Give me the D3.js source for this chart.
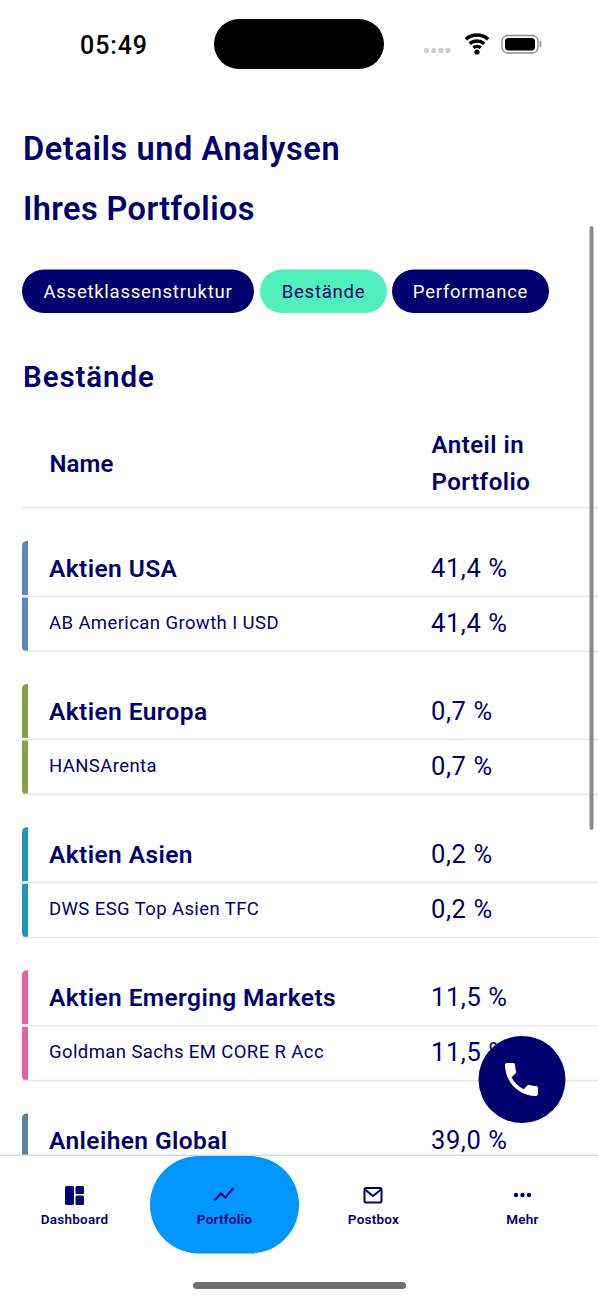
<!DOCTYPE html>
<html><head><meta charset="utf-8">
<script src="https://cdn.jsdelivr.net/npm/d3@7/dist/d3.min.js"></script>
<style>html,body{margin:0;padding:0;background:#fff}svg{display:block}text{font-family:Roboto,sans-serif}</style>
</head><body><div id="c"></div>
<script>
const groups=["Aktien USA","Aktien Europa","Aktien Asien","Aktien Emerging Markets","Anleihen Global"];
const groupValues=[41.4,0.7,0.2,11.5,39.0];
const funds=["AB American Growth I USD","HANSArenta","DWS ESG Top Asien TFC","Goldman Sachs EM CORE R Acc",""];
const fundValues=[41.4,0.7,0.2,11.5,null];
const groupColors=["#5c86bd","#8c9f4a","#2493b8","#e2639f","#5f7f99"];
const tabs=["Assetklassenstruktur","Bestände","Performance"];
const navItems=["Dashboard","Portfolio","Postbox","Mehr"];
const navy="#00006e";
const fmt=v=>d3.format(".1f")(v).replace(".",",")+" %";
const svg=d3.select("#c").append("svg").attr("width",598).attr("height",1300);
const T=(x,y,s,size,w,fill,ls,anchor)=>svg.append("text").attr("x",x).attr("y",y).text(s)
  .attr("font-size",size).attr("font-weight",w).attr("fill",fill||navy)
  .attr("letter-spacing",ls||0).attr("text-anchor",anchor||"start");

// status bar
T(114,53.5,"05:49",25,500,"#000",0.9,"middle");
svg.append("rect").attr("x",214).attr("y",19).attr("width",170).attr("height",50).attr("rx",25).attr("fill","#000");
svg.selectAll(".sig").data([0,1,2,3]).join("rect").attr("x",d=>424+d*7.2).attr("y",48).attr("width",5).attr("height",5).attr("rx",1.5).attr("fill","#d0d0d0");
const wifi=svg.append("g").attr("transform","translate(477,52)").attr("fill","none").attr("stroke","#000").attr("stroke-width",3.4);
[5.5,11,17].forEach((r,i)=>wifi.append("path").attr("d",d3.arc().innerRadius(r).outerRadius(r).startAngle(-0.72).endAngle(0.72)()));
wifi.append("circle").attr("r",2.6).attr("fill","#000").attr("stroke","none");
svg.append("rect").attr("x",502).attr("y",35.5).attr("width",36).attr("height",17.5).attr("rx",5.5).attr("fill","none").attr("stroke","#8a8a8a").attr("stroke-width",1.3);
svg.append("rect").attr("x",505).attr("y",38).attr("width",30).attr("height",12.5).attr("rx",3.5).attr("fill","#000");
svg.append("rect").attr("x",539.5).attr("y",41).attr("width",2).attr("height",6).attr("rx",1).attr("fill","#a0a0a0");

// title
T(23,159.5,"Details und Analysen",32.5,600,navy,0.6);
T(23,219.5,"Ihres Portfolios",32.5,600,navy,0.4);

// tabs
const tabBox=[[22,232],[260,127],[392,157]];
tabs.forEach((t,i)=>{
  const [x,w]=tabBox[i];
  svg.append("rect").attr("x",x).attr("y",269.5).attr("width",w).attr("height",43.5).attr("rx",21.7).attr("fill",i==1?"#4ff0bc":navy);
  T(x+w/2,297.5,t,18.5,400,i==1?navy:"#fff",0.75,"middle");
});

// section heading + table head
T(23,386.5,"Bestände",29.5,600,navy,0.9);
T(49.5,472,"Name",24,600,navy,0.1);
T(431.5,453,"Anteil in",24,600,navy,0.5);
T(431.5,490,"Portfolio",24,600,navy,0.5);
svg.append("rect").attr("x",23).attr("y",507).attr("width",575).attr("height",1.5).attr("fill","#e8e8ec");

// rows
const y=d3.scaleBand().domain(groups).range([541,541+143.1*groups.length]).paddingInner(0);
const clip=svg.append("defs").append("clipPath").attr("id","cl").append("rect").attr("width",598).attr("height",1155);
const rows=svg.append("g").attr("clip-path","url(#cl)");
groups.forEach((g,i)=>{
  const t=y(g), G=rows.append("g");
  G.append("path").attr("fill",groupColors[i]).attr("d",`M28 ${t}h-1.5a5 5 0 0 0 -4.5 5v49h6z`);
  G.append("text").attr("x",49).attr("y",t+36).text(g).attr("font-size",24.5).attr("font-weight",600).attr("letter-spacing",0.4).attr("fill",navy);
  G.append("text").attr("x",431).attr("y",t+36).text(fmt(groupValues[i])).attr("font-size",25.5).attr("font-weight",400).attr("letter-spacing",0.6).attr("fill",navy);
  if(!funds[i])return;
  G.append("rect").attr("x",23).attr("y",t+54.5).attr("width",575).attr("height",1.5).attr("fill","#e8e8ec");
  G.append("path").attr("fill",groupColors[i]).attr("d",`M22 ${t+56.5}h6v54h-1.5a5 5 0 0 1 -4.5 -5z`);
  G.append("text").attr("x",49).attr("y",t+88).text(funds[i]).attr("font-size",18.5).attr("font-weight",400).attr("letter-spacing",0.4).attr("fill",navy);
  G.append("text").attr("x",431).attr("y",t+91).text(fmt(fundValues[i])).attr("font-size",25.5).attr("font-weight",400).attr("letter-spacing",0.6).attr("fill",navy);
  G.append("rect").attr("x",23).attr("y",t+109.5).attr("width",575).attr("height",1.5).attr("fill","#e8e8ec");
});

// scrollbar
svg.append("rect").attr("x",589.5).attr("y",226).attr("width",4).attr("height",604).attr("rx",2).attr("fill","#8a8a8a");

// call button
svg.append("circle").attr("cx",522).attr("cy",1079.5).attr("r",43.5).attr("fill",navy);
svg.append("path").attr("fill","#fff").attr("transform","translate(499.5,1057.5) scale(1.83)")
  .attr("d","M6.6 10.8c1.4 2.8 3.8 5.1 6.6 6.6l2.2-2.2c.3-.3.7-.4 1-.2 1.1.4 2.3.6 3.6.6.6 0 1 .4 1 1V20c0 .6-.4 1-1 1C10.6 21 3 13.4 3 4c0-.6.4-1 1-1h3.5c.6 0 1 .4 1 1 0 1.3.2 2.5.6 3.6.1.3 0 .7-.2 1l-2.3 2.2z");

// nav
svg.append("rect").attr("x",0).attr("y",1155).attr("width",598).attr("height",145).attr("fill","#fff");
svg.append("rect").attr("x",0).attr("y",1154.5).attr("width",598).attr("height",1.5).attr("fill","#d9d9e8");
svg.append("rect").attr("x",150).attr("y",1156).attr("width",149).attr("height",97.5).attr("rx",48.7).attr("fill","#0096fd");
const nx=[74.5,224.5,373.5,522.5];
navItems.forEach((n,i)=>T(nx[i],1223.5,n,13.5,600,navy,0.25,"middle"));
// dashboard icon
const d=svg.append("g").attr("transform","translate(65,1186)").attr("fill",navy);
d.append("rect").attr("width",9).attr("height",19).attr("rx",1.5);
d.append("rect").attr("x",10.5).attr("width",8.5).attr("height",8).attr("rx",1.5);
d.append("rect").attr("x",10.5).attr("y",9.5).attr("width",8.5).attr("height",9.5).attr("rx",1.5);
svg.append("path").attr("fill","none").attr("stroke",navy).attr("stroke-width",2).attr("d","M214.5 1200.5l6.5 -7 4.5 4 8 -9.5");
svg.append("rect").attr("x",364.5).attr("y",1188).attr("width",17).attr("height",14.5).attr("rx",1.5).attr("fill","none").attr("stroke",navy).attr("stroke-width",2);
svg.append("path").attr("fill","none").attr("stroke",navy).attr("stroke-width",2).attr("d","M365 1189.5l8 6.5 8 -6.5");
svg.selectAll(".dot").data([-6.5,0,6.5]).join("circle").attr("cx",d=>522.5+d).attr("cy",1195).attr("r",2.2).attr("fill",navy);
svg.append("rect").attr("x",193).attr("y",1282).attr("width",213).attr("height",7).attr("rx",3.5).attr("fill","#707070");
</script></body></html>
